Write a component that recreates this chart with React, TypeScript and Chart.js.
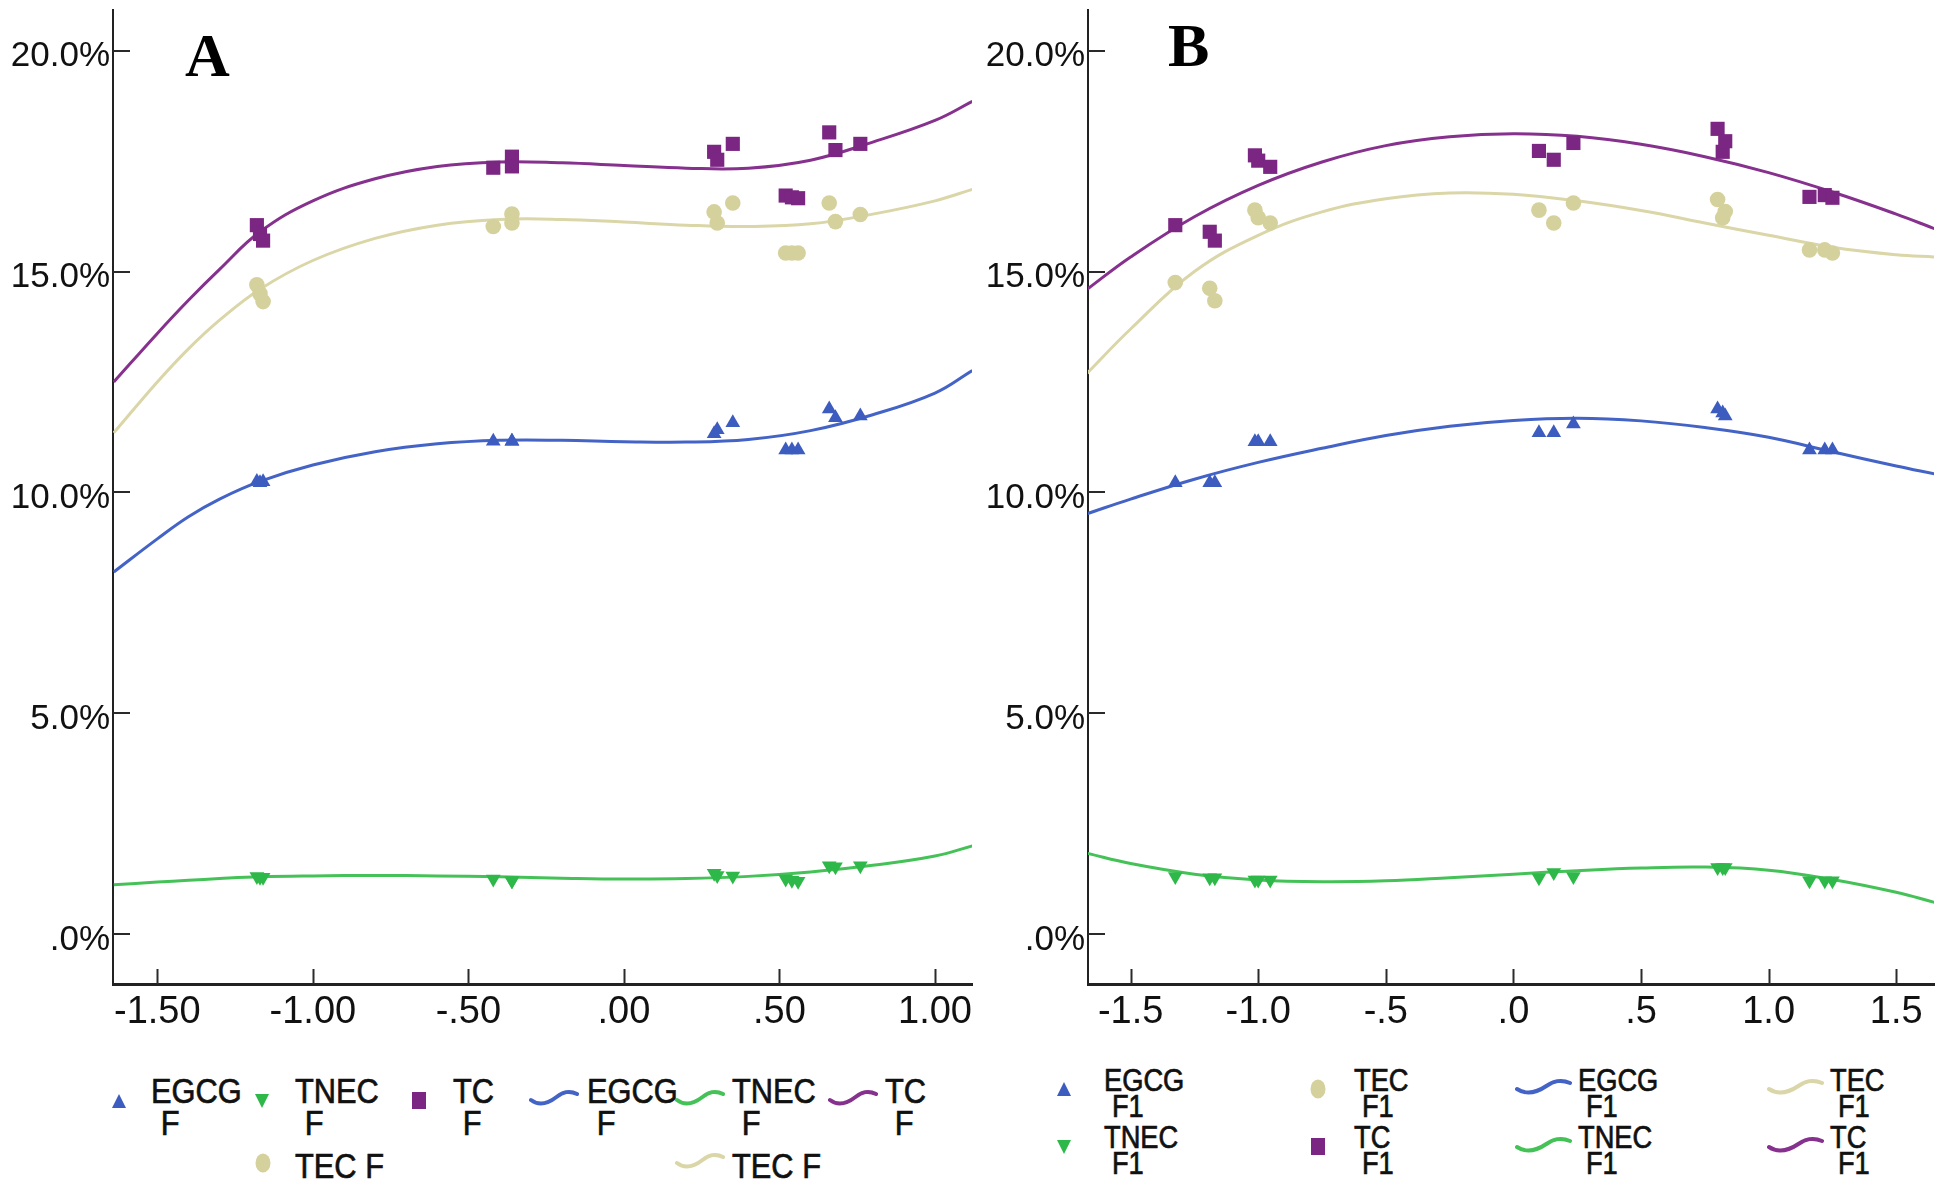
import React, { useEffect, useRef } from "react";
import { Chart, registerables } from "chart.js";

Chart.register(...registerables);

// ---------------- data ----------------
const yTickValues = [0, 5, 10, 15, 20];
const yTickLabels = [".0%", "5.0%", "10.0%", "15.0%", "20.0%"];

// Panel A
const aTickValues = [-1.5, -1.0, -0.5, 0, 0.5, 1.0];
const aTickLabels = ["-1.50", "-1.00", "-.50", ".00", ".50", "1.00"];
const aPointX = [-1.18, -1.17, -1.16, -0.42, -0.36, -0.36, 0.29, 0.3, 0.35, 0.52, 0.54, 0.56, 0.66, 0.68, 0.76];
const aEGCG = [10.25, 10.22, 10.24, 11.16, 11.16, 11.16, 11.33, 11.42, 11.58, 10.96, 10.96, 10.96, 11.89, 11.69, 11.73];
const aTNEC = [1.31, 1.29, 1.29, 1.25, 1.21, 1.21, 1.38, 1.33, 1.32, 1.25, 1.22, 1.2, 1.55, 1.53, 1.55];
const aTC = [16.05, 15.85, 15.7, 17.35, 17.6, 17.38, 17.71, 17.53, 17.89, 16.72, 16.68, 16.66, 18.15, 17.75, 17.89];
const aTEC = [14.7, 14.5, 14.32, 16.02, 16.3, 16.1, 16.35, 16.1, 16.55, 15.42, 15.42, 15.42, 16.55, 16.13, 16.29];
const aFitX = [-1.64, -1.5, -1.4, -1.3, -1.17, -1.0, -0.8, -0.6, -0.4, -0.2, 0, 0.2, 0.4, 0.6, 0.8, 1.0, 1.12];
const aEGCGFit = [8.2, 8.95, 9.45, 9.85, 10.25, 10.62, 10.92, 11.1, 11.18, 11.18, 11.15, 11.14, 11.2, 11.4, 11.76, 12.25, 12.76];
const aTNECFit = [1.12, 1.18, 1.22, 1.26, 1.3, 1.32, 1.33, 1.32, 1.3, 1.27, 1.25, 1.26, 1.31, 1.41, 1.56, 1.77, 2.0];
const aTCFit = [12.5, 13.6, 14.35, 15.05, 15.9, 16.6, 17.1, 17.38, 17.48, 17.46, 17.4, 17.34, 17.34, 17.52, 17.93, 18.42, 18.85];
const aTECFit = [11.35, 12.5, 13.25, 13.9, 14.6, 15.25, 15.75, 16.05, 16.18, 16.18, 16.12, 16.05, 16.02, 16.08, 16.3, 16.6, 16.86];

// Panel B
const bTickValues = [-1.5, -1.0, -0.5, 0, 0.5, 1.0, 1.5];
const bTickLabels = ["-1.5", "-1.0", "-.5", ".0", ".5", "1.0", "1.5"];
const bPointX = [-1.325, -1.19, -1.17, -1.013, -1.0, -0.953, 0.1, 0.158, 0.235, 0.8, 0.82, 0.83, 1.16, 1.22, 1.25];
const bEGCG = [10.22, 10.22, 10.22, 11.15, 11.15, 11.15, 11.35, 11.35, 11.55, 11.89, 11.8, 11.73, 10.96, 10.96, 10.96];
const bTNEC = [1.31, 1.28, 1.28, 1.23, 1.23, 1.23, 1.28, 1.4, 1.31, 1.51, 1.51, 1.51, 1.21, 1.21, 1.21];
const bTC = [16.05, 15.9, 15.7, 17.63, 17.51, 17.37, 17.73, 17.53, 17.91, 18.23, 17.71, 17.95, 16.69, 16.73, 16.67];
const bTEC = [14.75, 14.62, 14.34, 16.39, 16.22, 16.1, 16.39, 16.1, 16.55, 16.63, 16.22, 16.36, 15.49, 15.49, 15.42];
const bFitX = [-1.67, -1.5, -1.25, -1.0, -0.75, -0.5, -0.25, 0, 0.25, 0.5, 0.75, 1.0, 1.25, 1.5, 1.65];
const bEGCGFit = [9.52, 9.85, 10.3, 10.68, 11.0, 11.29, 11.5, 11.63, 11.68, 11.62, 11.47, 11.25, 10.92, 10.6, 10.42];
const bTNECFit = [1.83, 1.6, 1.36, 1.23, 1.19, 1.21, 1.28, 1.36, 1.44, 1.5, 1.52, 1.45, 1.24, 0.95, 0.72];
const bTCFit = [14.6, 15.33, 16.24, 16.95, 17.48, 17.85, 18.05, 18.12, 18.06, 17.88, 17.6, 17.24, 16.8, 16.3, 15.97];
const bTECFit = [12.7, 13.7, 15.0, 15.82, 16.35, 16.65, 16.78, 16.75, 16.6, 16.38, 16.1, 15.82, 15.55, 15.38, 15.33];

// ---------------- styles ----------------
const BLUE = "#3d5cbf";
const GREEN = "#2eb849";
const PURPLE = "#7a2682";
const TAN = "#d5d19d";
const BLUE_L = "#4363c6";
const GREEN_L = "#45c257";
const PURPLE_L = "#86318d";
const TAN_L = "#dad6a8";
const SANS = "'Liberation Sans', Arial, sans-serif";
const SERIF = "'Liberation Serif', 'Times New Roman', serif";

const insideTicks = {
  id: "insideTicks",
  afterDraw(chart: any) {
    const { ctx, chartArea, scales } = chart;
    ctx.save();
    ctx.strokeStyle = "#2a2a2a";
    ctx.lineWidth = 2;
    scales.x.ticks.forEach((t: any) => {
      const px = Math.round(scales.x.getPixelForValue(t.value)) + 0.5;
      ctx.beginPath();
      ctx.moveTo(px, chartArea.bottom);
      ctx.lineTo(px, chartArea.bottom - 15);
      ctx.stroke();
    });
    scales.y.ticks.forEach((t: any) => {
      const py = Math.round(scales.y.getPixelForValue(t.value));
      ctx.beginPath();
      ctx.moveTo(chartArea.left, py);
      ctx.lineTo(chartArea.left + 17, py);
      ctx.stroke();
    });
    ctx.restore();
  },
};

type PanelCfg = {
  left: number;
  width: number;
  height: number;
  yAxisW: number;
  xAxisH: number;
  padRight: number;
  xMin: number;
  xMax: number;
  tickValues: number[];
  tickLabels: string[];
  pointX: number[];
  egcg: number[];
  tnec: number[];
  tc: number[];
  tec: number[];
  fitX: number[];
  egcgFit: number[];
  tnecFit: number[];
  tcFit: number[];
  tecFit: number[];
  suffix: string;
};

function pts(xs: number[], ys: number[]) {
  return xs.map((x, i) => ({ x, y: ys[i] }));
}

function ChartPanel({ cfg }: { cfg: PanelCfg }) {
  const ref = useRef<HTMLCanvasElement | null>(null);
  useEffect(() => {
    if (!ref.current) return;
    const scatter = (label: string, ys: number[], color: string, style: string, r: number, rot = 0) => ({
      type: "scatter" as const,
      label,
      data: pts(cfg.pointX, ys),
      pointStyle: style,
      pointRadius: r,
      rotation: rot,
      backgroundColor: color,
      borderColor: color,
      borderWidth: 0,
      order: 0,
    });
    const fit = (label: string, ys: number[], color: string) => ({
      type: "scatter" as const,
      label,
      data: pts(cfg.fitX, ys),
      showLine: true,
      pointRadius: 0,
      borderColor: color,
      backgroundColor: color,
      borderWidth: 3,
      tension: 0.4,
      fill: false,
      order: 1,
    });
    const chart = new Chart(ref.current, {
      type: "scatter",
      data: {
        datasets: [
          scatter("EGCG " + cfg.suffix, cfg.egcg, BLUE, "triangle", 8.5),
          scatter("TNEC " + cfg.suffix, cfg.tnec, GREEN, "triangle", 8.5, 180),
          scatter("TC " + cfg.suffix, cfg.tc, PURPLE, "rect", 10),
          scatter("TEC " + cfg.suffix, cfg.tec, TAN, "circle", 7.8),
          fit("EGCG " + cfg.suffix + " fit", cfg.egcgFit, BLUE_L),
          fit("TNEC " + cfg.suffix + " fit", cfg.tnecFit, GREEN_L),
          fit("TC " + cfg.suffix + " fit", cfg.tcFit, PURPLE_L),
          fit("TEC " + cfg.suffix + " fit", cfg.tecFit, TAN_L),
        ] as any,
      },
      options: {
        responsive: false,
        animation: false,
        devicePixelRatio: 1,
        layout: { padding: { left: 0, right: cfg.padRight, top: 5, bottom: 0 } },
        plugins: { legend: { display: false }, tooltip: { enabled: false } },
        scales: {
          x: {
            type: "linear",
            min: cfg.xMin,
            max: cfg.xMax,
            grid: { display: false, drawTicks: false },
            border: { display: true, color: "#222", width: 3 },
            ticks: {
              autoSkip: false,
              maxRotation: 0,
              padding: 6,
              color: "#111",
              font: { family: SANS, size: 38 },
              callback: (v: any) => {
                const i = cfg.tickValues.findIndex((t) => Math.abs(t - Number(v)) < 1e-6);
                return i >= 0 ? cfg.tickLabels[i] : "";
              },
            },
            afterBuildTicks: (s: any) => {
              s.ticks = cfg.tickValues.map((v) => ({ value: v }));
            },
            afterFit: (s: any) => {
              s.height = cfg.xAxisH;
              s.paddingLeft = 0;
              s.paddingRight = 0;
              s.paddingTop = 0;
              s.paddingBottom = 0;
            },
          },
          y: {
            type: "linear",
            min: -1.126,
            max: 20.92,
            grid: { display: false, drawTicks: false },
            border: { display: true, color: "#222", width: 2 },
            ticks: {
              padding: 3,
              labelOffset: 6,
              color: "#111",
              font: { family: SANS, size: 35 },
              callback: (v: any) => {
                const i = yTickValues.findIndex((t) => Math.abs(t - Number(v)) < 1e-6);
                return i >= 0 ? yTickLabels[i] : "";
              },
            },
            afterBuildTicks: (s: any) => {
              s.ticks = yTickValues.map((v) => ({ value: v }));
            },
            afterFit: (s: any) => {
              s.width = cfg.yAxisW;
              s.paddingTop = 0;
              s.paddingBottom = 0;
              s.paddingLeft = 0;
              s.paddingRight = 0;
            },
          },
        },
      } as any,
      plugins: [insideTicks],
    });
    return () => chart.destroy();
  }, [cfg]);
  return (
    <canvas
      ref={ref}
      width={cfg.width}
      height={cfg.height}
      style={{ position: "absolute", left: cfg.left, top: 0, width: cfg.width, height: cfg.height }}
    />
  );
}

const panelA: PanelCfg = {
  left: 0,
  width: 982,
  height: 1045,
  yAxisW: 113,
  xAxisH: 61,
  padRight: 3,
  xMin: -1.6425,
  xMax: 1.119,
  tickValues: aTickValues,
  tickLabels: aTickLabels,
  pointX: aPointX,
  egcg: aEGCG,
  tnec: aTNEC,
  tc: aTC,
  tec: aTEC,
  fitX: aFitX,
  egcgFit: aEGCGFit,
  tnecFit: aTNECFit,
  tcFit: aTCFit,
  tecFit: aTECFit,
  suffix: "F",
};

const panelB: PanelCfg = {
  left: 985,
  width: 959,
  height: 1045,
  yAxisW: 103,
  xAxisH: 61,
  padRight: 7,
  xMin: -1.667,
  xMax: 1.648,
  tickValues: bTickValues,
  tickLabels: bTickLabels,
  pointX: bPointX,
  egcg: bEGCG,
  tnec: bTNEC,
  tc: bTC,
  tec: bTEC,
  fitX: bFitX,
  egcgFit: bEGCGFit,
  tnecFit: bTNECFit,
  tcFit: bTCFit,
  tecFit: bTECFit,
  suffix: "F1",
};

// ---------------- legend ----------------
type Kind = "tri" | "triDown" | "square" | "circle" | "wave";

function Marker({ kind, color, cx, cy, w }: { kind: Kind; color: string; cx: number; cy: number; w: number }) {
  if (kind === "wave") {
    const h = 20;
    return (
      <svg style={{ position: "absolute", left: cx - w / 2, top: cy - h / 2 }} width={w} height={h}>
        <path
          d={`M2 13 C ${w * 0.22} 20, ${w * 0.42} 15, ${w * 0.55} 10 S ${w * 0.8} 3, ${w - 2} 7`}
          fill="none"
          stroke={color}
          strokeWidth={4}
          strokeLinecap="round"
        />
      </svg>
    );
  }
  const s = 20;
  let shape: any = null;
  if (kind === "tri") shape = <polygon points="3,17 10,3 17,17" fill={color} />;
  if (kind === "triDown") shape = <polygon points="3,3 17,3 10,17" fill={color} />;
  if (kind === "square") shape = <rect x={3} y={1} width={14} height={17} fill={color} />;
  if (kind === "circle") shape = <ellipse cx={10} cy={10} rx={7.5} ry={9.5} fill={color} />;
  return (
    <svg style={{ position: "absolute", left: cx - s / 2, top: cy - s / 2 }} width={s} height={s}>
      {shape}
    </svg>
  );
}

type LegItem = { kind: Kind; color: string; mx: number; my: number; tx: number; ty: number; lines: string[] };

function Legend({ items, size, lh, indent, waveW }: { items: LegItem[]; size: number; lh: number; indent: number; waveW: number }) {
  return (
    <>
      {items.map((it, i) => (
        <React.Fragment key={i}>
          <Marker kind={it.kind} color={it.color} cx={it.mx} cy={it.my} w={waveW} />
          <div
            style={{
              position: "absolute",
              left: it.tx,
              top: it.ty,
              fontFamily: SANS,
              fontSize: size,
              lineHeight: lh + "px",
              color: "#111",
              whiteSpace: "nowrap",
              transform: "scaleX(0.88)",
              transformOrigin: "left top",
              WebkitTextStroke: "0.7px #111",
            }}
          >
            {it.lines.map((l, j) => (
              <div key={j} style={{ paddingLeft: j > 0 ? indent : 0 }}>
                {l}
              </div>
            ))}
          </div>
        </React.Fragment>
      ))}
    </>
  );
}

const legendA: LegItem[] = [
  { kind: "tri", color: BLUE, mx: 119, my: 1101, tx: 151, ty: 1075, lines: ["EGCG", "F"] },
  { kind: "triDown", color: GREEN, mx: 262, my: 1101, tx: 295, ty: 1075, lines: ["TNEC", "F"] },
  { kind: "square", color: PURPLE, mx: 419, my: 1101, tx: 453, ty: 1075, lines: ["TC", "F"] },
  { kind: "wave", color: BLUE_L, mx: 554, my: 1097, tx: 587, ty: 1075, lines: ["EGCG", "F"] },
  { kind: "wave", color: GREEN_L, mx: 700, my: 1097, tx: 732, ty: 1075, lines: ["TNEC", "F"] },
  { kind: "wave", color: PURPLE_L, mx: 853, my: 1097, tx: 885, ty: 1075, lines: ["TC", "F"] },
  { kind: "circle", color: TAN, mx: 263, my: 1163, tx: 295, ty: 1150, lines: ["TEC F"] },
  { kind: "wave", color: TAN_L, mx: 700, my: 1160, tx: 732, ty: 1150, lines: ["TEC F"] },
];

const legendB: LegItem[] = [
  { kind: "tri", color: BLUE, mx: 1064, my: 1089, tx: 1104, ty: 1068, lines: ["EGCG", "F1"] },
  { kind: "circle", color: TAN, mx: 1318, my: 1089, tx: 1354, ty: 1068, lines: ["TEC", "F1"] },
  { kind: "wave", color: BLUE_L, mx: 1543, my: 1086, tx: 1578, ty: 1068, lines: ["EGCG", "F1"] },
  { kind: "wave", color: TAN_L, mx: 1795, my: 1086, tx: 1830, ty: 1068, lines: ["TEC", "F1"] },
  { kind: "triDown", color: GREEN, mx: 1064, my: 1147, tx: 1104, ty: 1125, lines: ["TNEC", "F1"] },
  { kind: "square", color: PURPLE, mx: 1318, my: 1147, tx: 1354, ty: 1125, lines: ["TC", "F1"] },
  { kind: "wave", color: GREEN_L, mx: 1543, my: 1144, tx: 1578, ty: 1125, lines: ["TNEC", "F1"] },
  { kind: "wave", color: PURPLE_L, mx: 1795, my: 1144, tx: 1830, ty: 1125, lines: ["TC", "F1"] },
];

export default function App() {
  return (
    <div
      style={{
        position: "fixed",
        left: 0,
        top: 0,
        width: 1944,
        height: 1183,
        background: "#fff",
        overflow: "hidden",
      }}
    >
      <ChartPanel cfg={panelA} />
      <ChartPanel cfg={panelB} />
      <div
        style={{
          position: "absolute",
          left: 185,
          top: 24,
          fontFamily: SERIF,
          fontWeight: "bold",
          fontSize: 62,
          lineHeight: "62px",
          color: "#000",
        }}
      >
        A
      </div>
      <div
        style={{
          position: "absolute",
          left: 1168,
          top: 14,
          fontFamily: SERIF,
          fontWeight: "bold",
          fontSize: 62,
          lineHeight: "62px",
          color: "#000",
        }}
      >
        B
      </div>
      <Legend items={legendA} size={35} lh={32} indent={11} waveW={50} />
      <Legend items={legendB} size={31} lh={26} indent={9} waveW={57} />
    </div>
  );
}
